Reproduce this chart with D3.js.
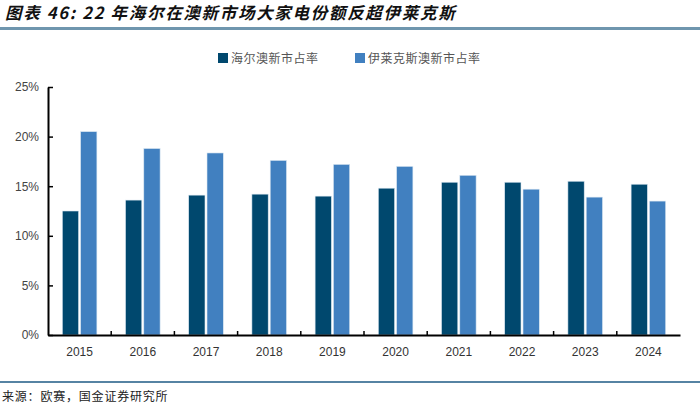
<!DOCTYPE html>
<html><head><meta charset="utf-8">
<script src="https://cdn.jsdelivr.net/npm/d3@7"></script>
<style>body{margin:0;background:#fff}svg{display:block}</style>
</head><body>
<svg id="c" width="700" height="417"></svg>
<script>
const categories = ["2015","2016","2017","2018","2019","2020","2021","2022","2023","2024"];
const haier = [12.5,13.6,14.1,14.2,14.0,14.8,15.4,15.4,15.5,15.2];
const electrolux = [20.5,18.8,18.35,17.6,17.2,17.0,16.1,14.7,13.9,13.5];
const seriesNames = ["海尔澳新市占率","伊莱克斯澳新市占率"];
const yTicks = [0,5,10,15,20,25];
const colors = ["#00486E","#4180C0"];

const svg = d3.select("#c");
const L = 48, R = 680, T = 87, B = 335;
const x = d3.scaleBand().domain(categories).range([L, R]);
const y = d3.scaleLinear().domain([0,25]).range([B, T]);

// title
svg.append("text").attr("x",5).attr("y",19)
  .attr("font-family","'Noto Sans CJK SC'").attr("font-weight","bold").attr("font-style","italic")
  .attr("font-size",16.5).attr("letter-spacing",1.7).attr("fill","#111")
  .text("图表 46: 22 年海尔在澳新市场大家电份额反超伊莱克斯");
svg.append("line").attr("x1",0).attr("x2",700).attr("y1",28.5).attr("y2",28.5)
  .attr("stroke","#6F96AE").attr("stroke-width",3);

// legend
const lg = [{x:218, t:seriesNames[0], c:colors[0]},{x:355, t:seriesNames[1], c:colors[1]}];
lg.forEach(d=>{
  svg.append("rect").attr("x",d.x).attr("y",53).attr("width",10).attr("height",10).attr("fill",d.c);
  svg.append("text").attr("x",d.x+13).attr("y",62.5).attr("font-family","'Noto Sans CJK SC'")
    .attr("font-size",12).attr("letter-spacing",0.5).attr("fill","#555").text(d.t);
});

// bars
const data = [haier, electrolux];
const bw = 16.3, gap = 2;
data.forEach((vals,si)=>{
  svg.append("g").selectAll("rect").data(categories).join("rect")
    .attr("x", (c)=> x(c)+x.bandwidth()/2 - bw - gap/2 + si*(bw+gap))
    .attr("y", (c,i)=> y(vals[i]))
    .attr("width", bw)
    .attr("height", (c,i)=> B - y(vals[i]))
    .attr("fill", colors[si])
    .attr("stroke", "#DCE8F2").attr("stroke-width",0.6);
});

// y axis
const ya = svg.append("g").attr("transform",`translate(${L},0)`)
  .call(d3.axisLeft(y).tickValues(yTicks).tickFormat(d=>d+"%").tickSizeInner(-5).tickSizeOuter(0).tickPadding(9));
ya.select(".domain").attr("stroke","#000").attr("stroke-width",2);
ya.selectAll(".tick line").attr("stroke","#000").attr("stroke-width",1.5);
ya.selectAll("text").attr("font-family","'Liberation Sans',Arial").attr("font-size",12).attr("fill","#444");

// x axis
const xa = svg.append("g").attr("transform",`translate(0,${B})`)
  .call(d3.axisBottom(x).tickSize(0).tickPadding(12));
xa.select(".domain").attr("stroke","#000").attr("stroke-width",2.2);
xa.selectAll("text").attr("font-family","'Liberation Sans',Arial").attr("font-size",12).attr("fill","#333");
svg.append("g").selectAll("line").data(categories.slice(1)).join("line")
  .attr("x1",c=>x(c)).attr("x2",c=>x(c)).attr("y1",B).attr("y2",B-4)
  .attr("stroke","#000").attr("stroke-width",1.5);

// footer
svg.append("line").attr("x1",0).attr("x2",700).attr("y1",382).attr("y2",382)
  .attr("stroke","#1E5A85").attr("stroke-width",1.5);
svg.append("text").attr("x",2).attr("y",401).attr("font-family","'Noto Sans CJK SC'")
  .attr("font-size",12).attr("letter-spacing",0.8).attr("fill","#222").text("来源：欧赛，国金证券研究所");
</script>
</body></html>
